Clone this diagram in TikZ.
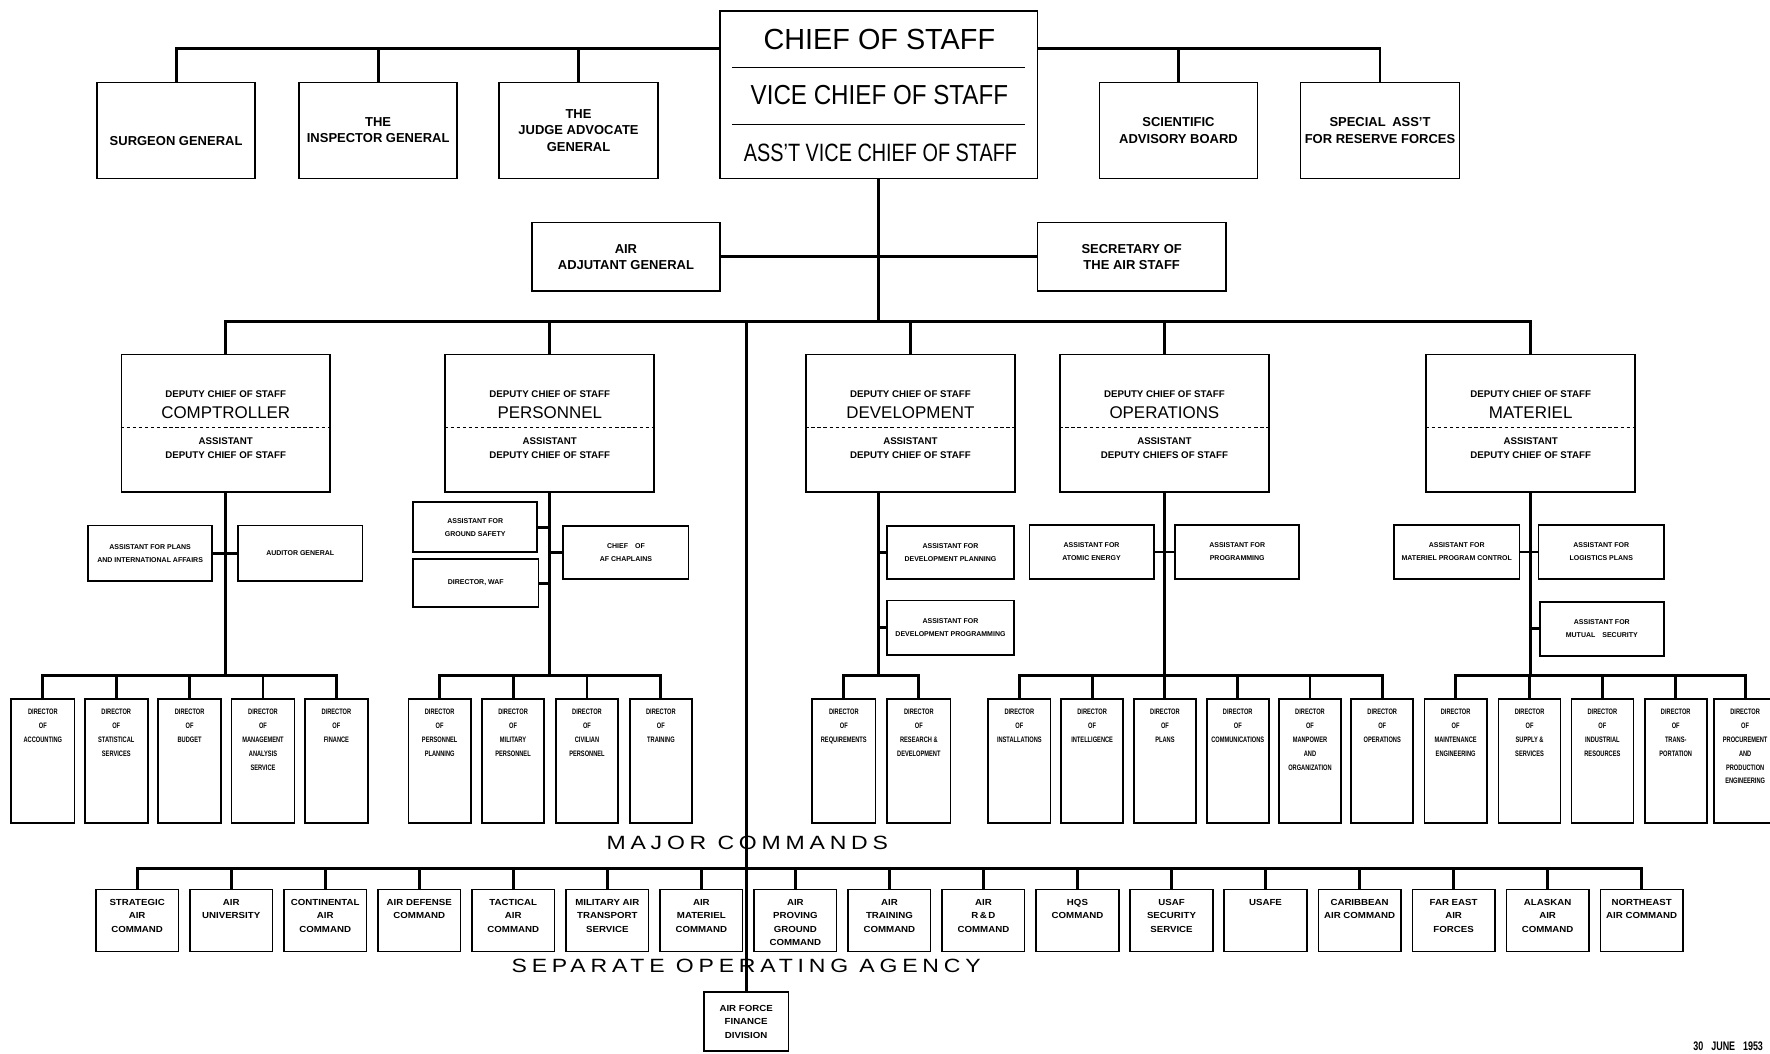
\documentclass[tikz,border=0pt]{standalone}
\usepackage{fontspec}
\usepackage{graphicx}
\setmainfont{Liberation Sans}
\newfontfamily\condfont[FakeStretch=0.72]{Liberation Sans}
\newfontfamily\extfont[FakeStretch=1.1]{Liberation Sans}
\newfontfamily\widefont[FakeStretch=1.2,LetterSpace=25]{Liberation Sans}
\newcommand\fsz[2]{\fontsize{#1}{#2}\selectfont}
\begin{document}
\begin{tikzpicture}[x=1pt, y=-1pt,
 box/.style={draw, line width=1.5pt, inner sep=0pt, align=center},
 sz/.style 2 args={minimum width=#1pt, minimum height=#2pt},
 conn/.style={line width=2.6pt, line cap=rect},
 sepl/.style={line width=1pt},
 dsep/.style={line width=0.9pt, dash pattern=on 3pt off 2.4pt},
 ttxt/.style={align=center, inner sep=0pt, font=\bfseries\fsz{11.5}{14.5}},
 cos/.style={inner sep=0pt},
 dsm/.style={inner sep=0pt, align=center, font=\bfseries\fsz{8.6}{12}},
 dbig/.style={inner sep=0pt, font=\fsz{15}{18}},
 atxt/.style={font=\bfseries\fsz{6.2}{11.5}},
 dtxt/.style={inner sep=0pt, align=center, font=\condfont\bfseries\fsz{7}{12.2}},
 ctxt/.style={inner sep=0pt, align=center, font=\extfont\bfseries\fsz{7.8}{12}},
 big/.style={inner sep=0pt, font=\widefont\fsz{17}{20}},
]
\useasboundingbox (0,0) rectangle (1568,933);

% ---------- coordinates of bars ----------
\coordinate (tb) at (0,43);
\coordinate (mb) at (0,285);
\coordinate (dl) at (0,379);
\coordinate (db) at (0,598);
\coordinate (mcb) at (0,769);
\coordinate (sa) at (0,60);
\coordinate (sb) at (0,110);

% ---------- chief of staff ----------
\node[box, sz={281}{148}] (chief) at (778.5,84) {};
\draw[sepl] (chief.west |- sa) ++(11,0) -- ++(260,0);
\draw[sepl] (chief.west |- sb) ++(11,0) -- ++(260,0);
\node[cos] (cos1) at (779,35) {\resizebox{205pt}{18pt}{CHIEF OF STAFF}};
\node[cos] (cos2) at (779,84) {\resizebox{228pt}{17pt}{VICE CHIEF OF STAFF}};
\node[cos] (cos3) at (780,135) {\resizebox{242pt}{15.5pt}{ASS'T VICE CHIEF OF STAFF}};

% ---------- top row ----------
\node[box, sz={140}{85}] (sg) at (156,115.5) {};
\node[ttxt] (sgt) at (156,125) {SURGEON GENERAL};
\node[box, sz={140}{85}, ttxt] (ig) at (335,115.5) {THE\\INSPECTOR GENERAL};
\node[box, sz={141}{85}, ttxt] (jag) at (512.5,115.5) {THE\\JUDGE ADVOCATE\\GENERAL};
\node[box, sz={140}{85}, ttxt] (sab) at (1044,115.5) {SCIENTIFIC\\ADVISORY BOARD};
\node[box, sz={141}{85}, ttxt] (sar) at (1222.5,115.5) {SPECIAL\enspace ASS'T\\FOR RESERVE FORCES};

\node[box, sz={167}{61}, ttxt] (aag) at (554.5,227.5) {AIR\\ADJUTANT GENERAL};
\node[box, sz={167}{61}, ttxt] (sas) at (1002.5,227.5) {SECRETARY OF\\THE AIR STAFF};

% ---------- deputy chiefs ----------
\foreach \n/\cx/\nm/\asst in {comp/200/COMPTROLLER/{DEPUTY CHIEF OF STAFF},
  pers/487/PERSONNEL/{DEPUTY CHIEF OF STAFF},
  dev/806.5/DEVELOPMENT/{DEPUTY CHIEF OF STAFF},
  ops/1031.5/OPERATIONS/{DEPUTY CHIEFS OF STAFF},
  mat/1356/MATERIEL/{DEPUTY CHIEF OF STAFF}}{
  \node[box, sz={185}{122}] (\n) at (\cx,375) {};
  \node[dsm] (\n-a) at (\cx,349) {DEPUTY CHIEF OF STAFF};
  \node[dbig] (\n-b) at (\cx,366) {\nm};
  \node[dsm] (\n-c) at (\cx,397) {ASSISTANT\\\asst};
  \draw[dsep] (\n.west |- dl) -- (\n.east |- dl);
}

% ---------- assistants ----------
\node[box, sz={110}{49}, atxt] (apia) at (133,490) {ASSISTANT FOR PLANS\\AND INTERNATIONAL AFFAIRS};
\node[box, sz={110}{49}, atxt] (audg) at (266,490) {AUDITOR GENERAL};
\node[box, sz={110}{44}, atxt] (ags) at (421,467) {ASSISTANT FOR\\GROUND SAFETY};
\node[box, sz={111}{43}, atxt] (waf) at (421.5,516.5) {DIRECTOR, WAF};
\node[box, sz={111}{47}, atxt] (chap) at (554.5,489.5) {CHIEF\quad OF\\AF CHAPLAINS};
\node[box, sz={112}{47}, atxt] (adp) at (842,489.5) {ASSISTANT FOR\\DEVELOPMENT PLANNING};
\node[box, sz={112}{48}, atxt] (adpr) at (842,556) {ASSISTANT FOR\\DEVELOPMENT PROGRAMMING};
\node[box, sz={110}{48}, atxt] (aae) at (967,489) {ASSISTANT FOR\\ATOMIC ENERGY};
\node[box, sz={110}{48}, atxt] (aprog) at (1096,489) {ASSISTANT FOR\\PROGRAMMING};
\node[box, sz={111}{48}, atxt] (ampc) at (1290.5,489) {ASSISTANT FOR\\MATERIEL PROGRAM CONTROL};
\node[box, sz={111}{48}, atxt] (alp) at (1418.5,489) {ASSISTANT FOR\\LOGISTICS PLANS};
\node[box, sz={110}{48}, atxt] (ams) at (1419,557) {ASSISTANT FOR\\MUTUAL\quad SECURITY};

% ---------- directors ----------
\foreach \cx/\txt [count=\k] in {38/{DIRECTOR\\OF\\ACCOUNTING},
  103/{DIRECTOR\\OF\\STATISTICAL\\SERVICES},
  168/{DIRECTOR\\OF\\BUDGET},
  233/{DIRECTOR\\OF\\MANAGEMENT\\ANALYSIS\\SERVICE},
  298/{DIRECTOR\\OF\\FINANCE}}{
  \node[box, sz={56}{110}] (c\k) at (\cx,674) {};
  \node[dtxt, anchor=north, yshift=-10pt] (ct\k) at (c\k.north) {\txt};
  \draw[conn] (c\k.north) -- (c\k.north |- db);
}
\foreach \cx/\txt [count=\k] in {389.5/{DIRECTOR\\OF\\PERSONNEL\\PLANNING},
  454.5/{DIRECTOR\\OF\\MILITARY\\PERSONNEL},
  520/{DIRECTOR\\OF\\CIVILIAN\\PERSONNEL},
  585.5/{DIRECTOR\\OF\\TRAINING}}{
  \node[box, sz={55}{110}] (p\k) at (\cx,674) {};
  \node[dtxt, anchor=north, yshift=-10pt] (pt\k) at (p\k.north) {\txt};
  \draw[conn] (p\k.north) -- (p\k.north |- db);
}
\foreach \cx/\txt [count=\k] in {747.5/{DIRECTOR\\OF\\REQUIREMENTS},
  814/{DIRECTOR\\OF\\RESEARCH \&\\DEVELOPMENT}}{
  \node[box, sz={56}{110}] (v\k) at (\cx,674) {};
  \node[dtxt, anchor=north, yshift=-10pt] (vt\k) at (v\k.north) {\txt};
  \draw[conn] (v\k.north) -- (v\k.north |- db);
}
\foreach \cx/\txt [count=\k] in {903/{DIRECTOR\\OF\\INSTALLATIONS},
  967.5/{DIRECTOR\\OF\\INTELLIGENCE},
  1032/{DIRECTOR\\OF\\PLANS},
  1096.5/{DIRECTOR\\OF\\COMMUNICATIONS},
  1160.5/{DIRECTOR\\OF\\MANPOWER\\AND\\ORGANIZATION},
  1224.5/{DIRECTOR\\OF\\OPERATIONS}}{
  \node[box, sz={55}{110}] (o\k) at (\cx,674) {};
  \node[dtxt, anchor=north, yshift=-10pt] (ot\k) at (o\k.north) {\txt};
  \draw[conn] (o\k.north) -- (o\k.north |- db);
}
\foreach \cx/\txt [count=\k] in {1289.5/{DIRECTOR\\OF\\MAINTENANCE\\ENGINEERING},
  1355/{DIRECTOR\\OF\\SUPPLY \&\\SERVICES},
  1419.5/{DIRECTOR\\OF\\INDUSTRIAL\\RESOURCES},
  1484.5/{DIRECTOR\\OF\\TRANS-\\PORTATION},
  1546/{DIRECTOR\\OF\\PROCUREMENT\\AND\\PRODUCTION\\ENGINEERING}}{
  \node[box, sz={55}{110}] (m\k) at (\cx,674) {};
  \node[dtxt, anchor=north, yshift=-10pt] (mt\k) at (m\k.north) {\txt};
  \draw[conn] (m\k.north) -- (m\k.north |- db);
}

% ---------- major commands ----------
\foreach \txt [count=\k] in {{STRATEGIC\\AIR\\COMMAND}, {AIR\\UNIVERSITY},
  {CONTINENTAL\\AIR\\COMMAND}, {AIR DEFENSE\\COMMAND}, {TACTICAL\\AIR\\COMMAND},
  {MILITARY AIR\\TRANSPORT\\SERVICE}, {AIR\\MATERIEL\\COMMAND},
  {AIR\\PROVING\\GROUND\\COMMAND}, {AIR\\TRAINING\\COMMAND}, {AIR\\R\,\&\,D\\COMMAND},
  {HQS\\COMMAND}, {USAF\\SECURITY\\SERVICE}, {USAFE}, {CARIBBEAN\\AIR COMMAND},
  {FAR EAST\\AIR\\FORCES}, {ALASKAN\\AIR\\COMMAND}, {NORTHEAST\\AIR COMMAND}}{
  \node[box, sz={73}{55}] (mc\k) at ({121.5+83.3*(\k-1)},815.5) {};
  \node[ctxt, anchor=north, yshift=-9pt] (mct\k) at (mc\k.north) {\txt};
  \draw[conn] (mc\k.north) -- (mc\k.north |- mcb);
}
\draw[conn] (mc1.north |- mcb) -- (mc17.north |- mcb);

\node[box, sz={75}{52}, ctxt] (fin) at (661,905) {AIR FORCE\\FINANCE\\DIVISION};

% ---------- connectors ----------
\draw[conn] (sg.north) -- (sg.north |- tb) -- (chief.west |- tb);
\draw[conn] (ig.north) -- (ig.north |- tb);
\draw[conn] (jag.north) -- (jag.north |- tb);
\draw[conn] (chief.east |- tb) -- (sar.north |- tb) -- (sar.north);
\draw[conn] (sab.north) -- (sab.north |- tb);
\draw[conn] (chief.south) -- (chief.south |- mb);
\draw[conn] (aag.east) -- (sas.west);
\draw[conn] (comp.north) -- (comp.north |- mb) -- (mat.north |- mb) -- (mat.north);
\draw[conn] (pers.north) -- (pers.north |- mb);
\draw[conn] (dev.north) -- (dev.north |- mb);
\draw[conn] (ops.north) -- (ops.north |- mb);
\draw[conn] (fin.north) -- (fin.north |- mb);

\draw[conn] (comp.south) -- (comp.south |- db);
\draw[conn] (c1.north |- db) -- (c5.north |- db);
\draw[conn] (apia.east) -- (audg.west);

\draw[conn] (pers.south) -- (pers.south |- db);
\draw[conn] (p1.north |- db) -- (p4.north |- db);
\draw[conn] (ags.east) -- (ags.east -| pers.south);
\draw[conn] (waf.east) -- (waf.east -| pers.south);
\draw[conn] (chap.west) -- (chap.west -| pers.south);

\draw[conn] (chief.south |- dev.south) -- (chief.south |- db);
\draw[conn] (v1.north |- db) -- (v2.north |- db);
\draw[conn] (adp.west) -- (adp.west -| chief.south);
\draw[conn] (adpr.west) -- (adpr.west -| chief.south);

\draw[conn] (ops.south) -- (ops.south |- db);
\draw[conn] (o1.north |- db) -- (o6.north |- db);
\draw[conn] (aae.east) -- (aprog.west);

\draw[conn] (mat.south) -- (mat.south |- db);
\draw[conn] (m1.north |- db) -- (m5.north |- db);
\draw[conn] (ampc.east) -- (alp.west);
\draw[conn] (ams.west) -- (ams.west -| mat.south);

% ---------- labels ----------
\node[big] (majc) at (662,747) {MAJOR COMMANDS};
\node[big] (soa) at (661,856) {SEPARATE OPERATING AGENCY};
\node[anchor=south west, inner sep=0pt, font=\condfont\bfseries\fsz{11}{12}] (date) at (1500,931) {30\hspace{7pt}JUNE\hspace{7pt}1953};
\end{tikzpicture}
\end{document}
